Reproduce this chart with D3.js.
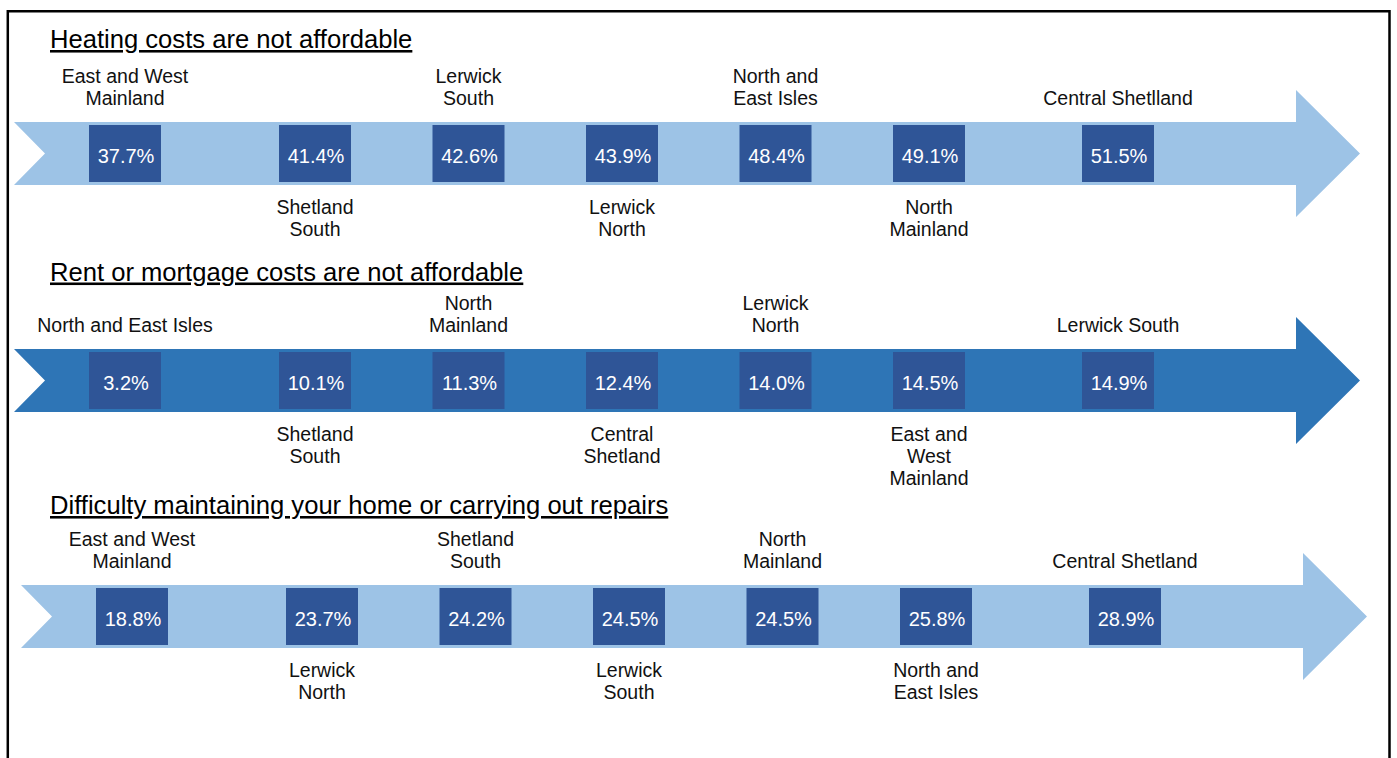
<!DOCTYPE html>
<html>
<head>
<meta charset="utf-8">
<script src="https://cdn.jsdelivr.net/npm/d3@7"></script>
<style>
  html, body { margin: 0; padding: 0; background: #fff; }
  svg { display: block; font-family: "Liberation Sans", Arial, sans-serif; }
</style>
</head>
<body>
<svg id="chart" width="1397" height="758"></svg>
<script>
// ---- Data ----------------------------------------------------------------
const titles = [
  "Heating costs are not affordable",
  "Rent or mortgage costs are not affordable",
  "Difficulty maintaining your home or carrying out repairs"
];

// Area names (lines separated by "|"), in ascending order of share
const heatingAreas = ["East and West|Mainland", "Shetland|South", "Lerwick|South", "Lerwick|North",
                      "North and|East Isles", "North|Mainland", "Central Shetlland"];
const heatingValues = [37.7, 41.4, 42.6, 43.9, 48.4, 49.1, 51.5];

const rentAreas = ["North and East Isles", "Shetland|South", "North|Mainland", "Central|Shetland",
                   "Lerwick|North", "East and|West|Mainland", "Lerwick South"];
const rentValues = [3.2, 10.1, 11.3, 12.4, 14.0, 14.5, 14.9];

const repairAreas = ["East and West|Mainland", "Lerwick|North", "Shetland|South", "Lerwick|South",
                     "North|Mainland", "North and|East Isles", "Central Shetland"];
const repairValues = [18.8, 23.7, 24.2, 24.5, 24.5, 25.8, 28.9];

// ---- Layout ----------------------------------------------------------------
const rows = [
  { title: titles[0], areas: heatingAreas, values: heatingValues, fill: "#9DC3E6", top: 122, dx: 0, titleY: 48 },
  { title: titles[1], areas: rentAreas,    values: rentValues,    fill: "#2E75B6", top: 349, dx: 0, titleY: 280.5 },
  { title: titles[2], areas: repairAreas,  values: repairValues,  fill: "#9DC3E6", top: 585, dx: 7, titleY: 514 }
];

const bandH = 63, boxW = 72, boxH = 57, boxInset = 3;
const bandLeft = 14, notch = 31, headStart = 1296, headTip = 1360, headOver = 32;
const lineH = 22;
const boxColor = "#2F5597";

// slot index -> horizontal centre (outer gaps are wider than inner ones)
const x = d3.scaleLinear().domain([0, 1, 5, 6]).range([125, 315, 929, 1118]);

const svg = d3.select("#chart");

// frame
svg.append("path")
  .attr("d", "M7.8,770 V11.3 H1389.5 V770")
  .attr("fill", "none")
  .attr("stroke", "#000")
  .attr("stroke-width", 2.5);

rows.forEach(row => {
  const g = svg.append("g").attr("transform", `translate(${row.dx},0)`);
  const t = row.top, b = row.top + bandH, mid = row.top + bandH / 2;

  // title
  svg.append("text")
    .attr("x", 50)
    .attr("y", row.titleY)
    .attr("font-size", 25.6)
    .attr("fill", "#000")
    .style("text-decoration", "underline")
    .text(row.title);

  // arrow with notched tail
  const arrow = d3.path();
  arrow.moveTo(bandLeft, t);
  arrow.lineTo(headStart, t);
  arrow.lineTo(headStart, t - headOver);
  arrow.lineTo(headTip, mid);
  arrow.lineTo(headStart, b + headOver);
  arrow.lineTo(headStart, b);
  arrow.lineTo(bandLeft, b);
  arrow.lineTo(bandLeft + notch, mid);
  arrow.closePath();
  g.append("path").attr("d", arrow.toString()).attr("fill", row.fill);

  const items = row.values.map((v, i) => ({ v, name: row.areas[i], i }));

  // value boxes
  g.selectAll("rect.box").data(items).join("rect")
    .attr("class", "box")
    .attr("x", d => x(d.i) - boxW / 2)
    .attr("y", t + boxInset)
    .attr("width", boxW)
    .attr("height", boxH)
    .attr("fill", boxColor);

  g.selectAll("text.val").data(items).join("text")
    .attr("class", "val")
    .attr("x", d => x(d.i) + 1)
    .attr("y", mid + 9.5)
    .attr("text-anchor", "middle")
    .attr("font-size", 20)
    .attr("fill", "#fff")
    .text(d => d.v.toFixed(1) + "%");

  // area labels, alternating above / below the arrow
  g.selectAll("text.lab").data(items).join("text")
    .attr("class", "lab")
    .attr("text-anchor", "middle")
    .attr("font-size", 19.5)
    .attr("fill", "#111")
    .each(function (d) {
      const lines = d.name.split("|");
      const above = d.i % 2 === 0;
      const firstY = above ? t - 24 - (lines.length - 1) * lineH : b + 22;
      d3.select(this).selectAll("tspan").data(lines).join("tspan")
        .attr("x", x(d.i))
        .attr("y", (s, k) => firstY + k * lineH + 7)
        .text(s => s);
    });
});
</script>
</body>
</html>
